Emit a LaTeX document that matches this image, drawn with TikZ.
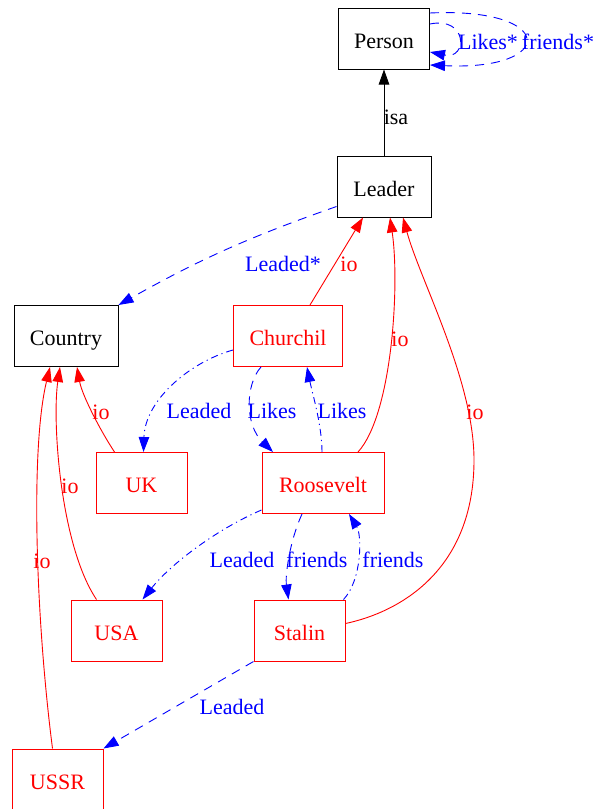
\documentclass[tikz,border=0pt]{standalone}
\usepackage{fontspec}
\setmainfont{Liberation Serif}
\usetikzlibrary{arrows.meta}
\begin{document}
\begin{tikzpicture}[x=1pt,y=-1pt,
  txt/.style={font=\fontsize{22}{24}\selectfont},
  bbox/.style={txt,draw=black,line width=1pt,minimum height=61pt,inner sep=0pt,text height=19pt,text depth=0pt},
  rbox/.style={bbox,draw=red,text=red},
  edgebase/.style={line width=0.9pt,-{Triangle[length=15pt,width=10.5pt]}},
  isaedge/.style={edgebase,draw=black},
  ioedge/.style={edgebase,draw=red},
  dashedge/.style={edgebase,draw=blue,dash pattern=on 9pt off 7pt},
  dotedge/.style={edgebase,draw=blue,dash pattern=on 7pt off 4pt on 1.2pt off 4pt},
  blab/.style={txt,text=blue,inner sep=0pt},
  rlab/.style={txt,text=red,inner sep=0pt},
  klab/.style={txt,text=black,inner sep=0pt}
]
\useasboundingbox (0,0) rectangle (595,809);
% nodes
\node[bbox,minimum width=91pt] (Person) at (384,38.5) {Person};
\node[bbox,minimum width=94pt] (Leader) at (384,186.5) {Leader};
\node[bbox,minimum width=104pt] (Country) at (66,336) {Country};
\node[rbox,minimum width=109pt] (Churchil) at (288,336) {Churchil};
\node[rbox,minimum width=91pt] (UK) at (141.5,483) {UK};
\node[rbox,minimum width=122pt] (Roosevelt) at (323,483) {Roosevelt};
\node[rbox,minimum width=91pt] (USA) at (116.5,630.5) {USA};
\node[rbox,minimum width=91pt] (Stalin) at (299.5,630.5) {Stalin};
\node[rbox,minimum width=91pt] (USSR) at (57.5,779.5) {USSR};

% isa
\draw[isaedge] (Leader) -- (Person);
\node[klab] (lisa) at (396,117) {isa};

% self loops on Person
\draw[dashedge] ([yshift=14.5pt]Person.east) .. controls +(38,-8) and +(38,8) .. ([yshift=-13.5pt]Person.east);
\draw[dashedge] ([yshift=25.5pt]Person.east) .. controls +(127,-6) and +(127,6) .. ([yshift=-26.5pt]Person.east);
\node[blab] (llikesS) at (488,42) {Likes*};
\node[blab] (lfriendsS) at (558,42) {friends*};

% Leader -> Country
\draw[dashedge] ([yshift=-20pt]Leader.west) to[bend right=5] (Country.north east);
\node[blab] (lleadedS) at (283,264) {Leaded*};

% io to Leader
\draw[ioedge] ([xshift=22pt]Churchil.north) -- ([xshift=-21pt]Leader.south);
\node[rlab] (lio1) at (349,264) {io};
\draw[ioedge] ([xshift=35pt]Roosevelt.north) .. controls (392,415) and (400,285) .. ([xshift=6pt]Leader.south);
\node[rlab] (lio2) at (400,339) {io};
\draw[ioedge] ([yshift=7pt]Stalin.east) .. controls (400,612) and (474,570) .. (474,460)
  .. controls (474,380) and (420,280) .. ([xshift=19pt]Leader.south);
\node[rlab] (lio3) at (475,412) {io};

% io to Country
\draw[ioedge] ([xshift=-27pt]UK.north) .. controls (100,430) and (82,395) .. ([xshift=11pt]Country.south);
\node[rlab] (lio4) at (101,412) {io};
\draw[ioedge] ([xshift=-20pt]USA.north) .. controls (60,545) and (52,420) .. ([xshift=-6pt]Country.south);
\node[rlab] (lio5) at (70,486) {io};
\draw[ioedge] ([xshift=-5pt]USSR.north) .. controls (36,620) and (30,450) .. ([xshift=-16pt]Country.south);
\node[rlab] (lio6) at (42,561) {io};

% Leaded / Likes / friends
\draw[dotedge] ([yshift=-14pt]Churchil.west) .. controls (190,362) and (145,400) .. ([xshift=2pt]UK.north);
\node[blab] (lleaded1) at (199,411) {Leaded};
\draw[dashedge] ([xshift=-27pt]Churchil.south) .. controls (245,385) and (245,425) .. ([xshift=-50pt]Roosevelt.north);
\node[blab] (llikes1) at (272,411) {Likes};
\draw[dotedge] ([xshift=-1pt]Roosevelt.north) .. controls (322,425) and (312,392) .. ([xshift=19pt]Churchil.south);
\node[blab] (llikes2) at (342,411) {Likes};

\draw[dotedge] ([yshift=-27pt]Roosevelt.west) .. controls (215,530) and (170,565) .. ([xshift=26pt]USA.north);
\node[blab] (lleaded2) at (242,560) {Leaded};
\draw[dashedge] ([xshift=-21pt]Roosevelt.south) .. controls (290,540) and (285,575) .. ([xshift=-11pt]Stalin.north);
\node[blab] (lfriends1) at (317,560) {friends};
\draw[dotedge] ([xshift=-2pt]Stalin.north east) .. controls (362,580) and (362,535) .. ([xshift=26pt]Roosevelt.south);
\node[blab] (lfriends2) at (393,560) {friends};

\draw[dashedge] (Stalin.south west) -- (USSR.north east);
\node[blab] (lleaded3) at (232,707) {Leaded};
\end{tikzpicture}
\end{document}
